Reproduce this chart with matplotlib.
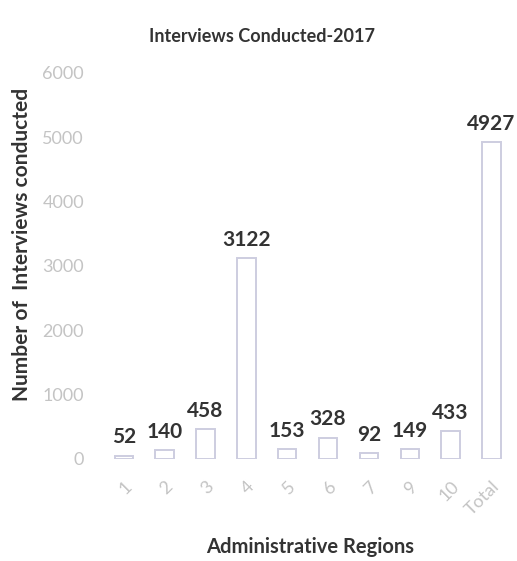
import matplotlib
matplotlib.use("Agg")
import matplotlib.pyplot as plt

regions = ["1", "2", "3", "4", "5", "6", "7", "9", "10", "Total"]
interviews = [52, 140, 458, 3122, 153, 328, 92, 149, 433, 4927]
yticks = [0, 1000, 2000, 3000, 4000, 5000, 6000]

plt.rcParams['font.family'] = ['Lato', 'DejaVu Sans']

fig = plt.figure(figsize=(5.17, 5.61), dpi=100)
ax = fig.add_axes([0.2, 0.182, 0.79, 0.688])

x = range(len(regions))
ax.bar(x, interviews, width=0.45, facecolor='white', edgecolor='#cdcde0', linewidth=1.4)

for i, v in zip(x, interviews):
    ax.annotate(str(v), (i, v), xytext=(0, 6), textcoords='offset points',
                ha='center', va='bottom', fontsize=15, fontweight='bold', color='#333333')

ax.set_xlim(-0.5, len(regions) - 0.5)
ax.set_ylim(0, 6000)
ax.set_yticks(yticks)
ax.set_xticks(list(x))
ax.set_xticklabels(regions, rotation=45, ha='right', rotation_mode='anchor')
ax.tick_params(axis='both', length=0, labelsize=13, labelcolor='#c4c4c4')
ax.tick_params(axis='x', pad=14)
ax.tick_params(axis='y', pad=14)
for s in ax.spines.values():
    s.set_visible(False)

ax.set_ylabel("Number of  Interviews conducted", fontsize=15, fontweight='bold', color='#333333')
ax.yaxis.set_label_coords(-0.175, 0.555)
fig.text(0.6, 0.025, "Administrative Regions", ha='center', va='center',
         fontsize=14.5, fontweight='bold', color='#333333')
fig.text(0.507, 0.935, "Interviews Conducted-2017", ha='center', va='center',
         fontsize=13, fontweight='bold', color='#333333')

fig.savefig("out.png", dpi=100, facecolor='white')
